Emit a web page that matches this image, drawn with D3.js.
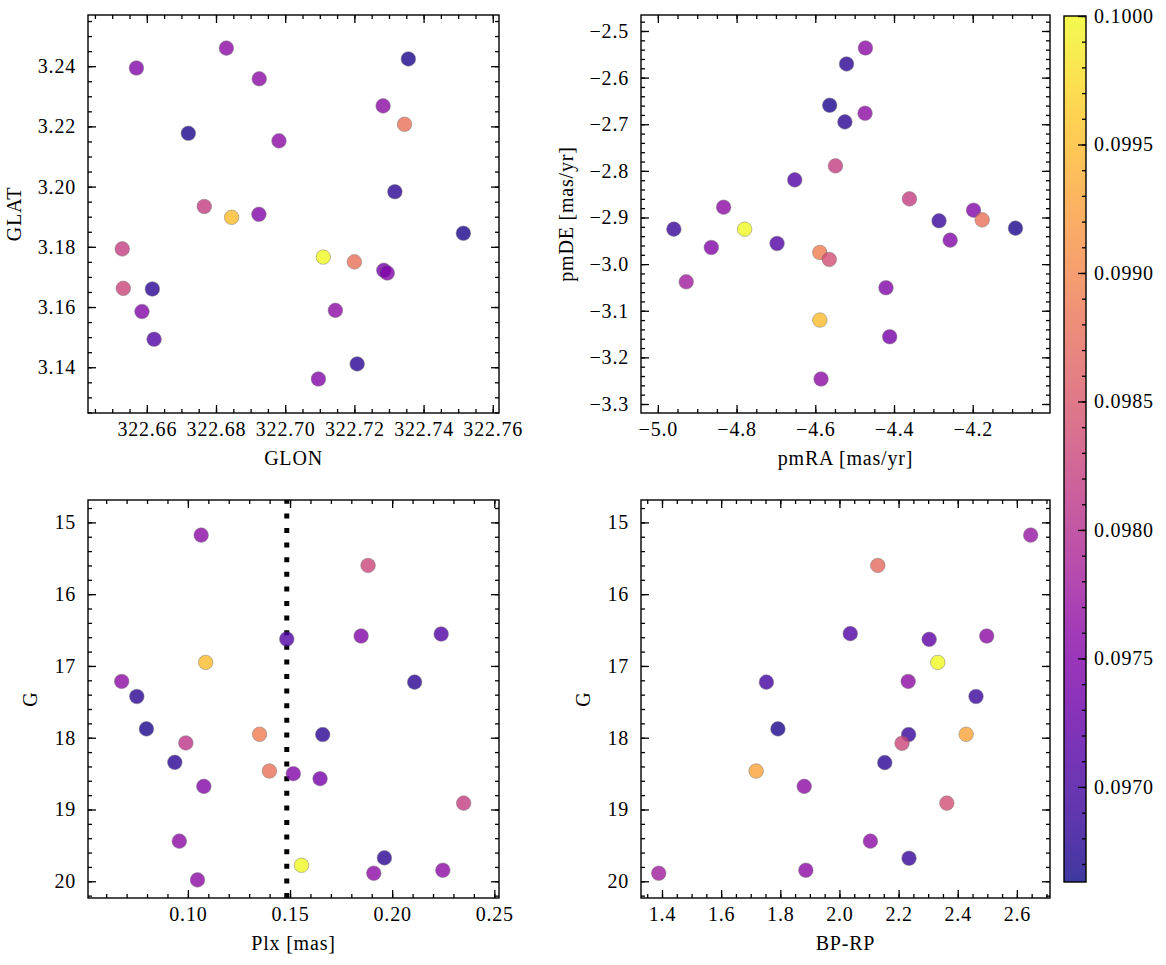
<!DOCTYPE html>
<html><head><meta charset="utf-8">
<script src="https://cdn.jsdelivr.net/npm/d3@7"></script>
<style>
body{margin:0;background:#fff}
text{font-family:"Liberation Serif","Times New Roman",serif;font-size:20px;fill:#000;letter-spacing:0.8px}
</style>
</head><body>
<svg id="c" width="1166" height="965" xmlns="http://www.w3.org/2000/svg"></svg>
<script>
// ---------- data ----------
// Panel 1: sky positions
const glon = [322.657,322.683,322.6925,322.7356,322.7283,322.7345,322.672,322.6982,322.7317,322.6766,322.6845,322.6924,322.7515,322.6529,322.711,322.720,322.7285,322.7295,322.6532,322.6616,322.6586,322.7145,322.6621,322.7208,322.7096];
const glat = [3.2394,3.246,3.2358,3.2424,3.2268,3.2207,3.2177,3.2152,3.1983,3.1934,3.1898,3.1908,3.1845,3.1793,3.1766,3.175,3.1722,3.1713,3.1662,3.166,3.1585,3.1589,3.1493,3.1411,3.1361];
const cPos = [0.0975,0.0976,0.0976,0.0967,0.0976,0.0988,0.0967,0.0976,0.0968,0.0982,0.0995,0.0975,0.0967,0.0982,0.1000,0.0988,0.0974,0.0975,0.0983,0.0968,0.0975,0.0976,0.0971,0.0968,0.0975];
// Panel 2: proper motions
const pmra = [-4.4726,-4.5206,-4.5634,-4.5248,-4.4736,-4.5488,-4.6522,-4.3608,-4.8329,-4.1979,-4.176,-4.2856,-4.0914,-4.9593,-4.7796,-4.2574,-4.8642,-4.6971,-4.5885,-4.5645,-4.9279,-4.4204,-4.5885,-4.411,-4.5854];
const pmde = [-2.5364,-2.5707,-2.6593,-2.695,-2.6764,-2.7893,-2.8193,-2.86,-2.8779,-2.8843,-2.905,-2.9071,-2.9229,-2.925,-2.925,-2.9486,-2.9643,-2.9557,-2.975,-2.99,-3.0379,-3.0507,-3.12,-3.1557,-3.2464];
const cPm = [0.0976,0.0968,0.0967,0.0968,0.0976,0.0982,0.0971,0.0982,0.0976,0.0975,0.0988,0.0969,0.0967,0.0969,0.1000,0.0975,0.0975,0.0971,0.0989,0.0984,0.0978,0.0975,0.0995,0.0974,0.0976];
// Panel 3: parallax vs G
const plx = [0.1065,0.1882,0.1484,0.1848,0.224,0.1087,0.0676,0.211,0.075,0.0797,0.1351,0.166,0.099,0.0936,0.1399,0.1516,0.1647,0.1078,0.235,0.0958,0.1962,0.1556,0.191,0.2248,0.1047];
const gPlx = [15.177,15.60,16.625,16.583,16.555,16.951,17.216,17.225,17.426,17.877,17.952,17.956,18.073,18.343,18.464,18.501,18.571,18.678,18.911,19.441,19.674,19.777,19.888,19.846,19.981];
const cPlx = [0.0976,0.0983,0.0971,0.0975,0.0971,0.0995,0.0976,0.0968,0.0968,0.0967,0.0989,0.0968,0.0981,0.0968,0.0988,0.0975,0.0974,0.0975,0.0982,0.0976,0.0968,0.1000,0.0976,0.0976,0.0976];
const plxCut = 0.1484;
// Panel 4: colour-magnitude
const bprp = [2.6467,2.1297,2.0366,2.3034,2.498,2.3326,1.753,2.2325,2.4618,1.792,2.2339,2.4285,2.2117,2.1533,1.7183,1.8809,2.3632,2.1047,2.2353,1.8864,1.3889];
const gCmd = [15.177,15.60,16.55,16.63,16.583,16.951,17.225,17.216,17.426,17.877,17.956,17.952,18.077,18.347,18.464,18.678,18.911,19.441,19.679,19.846,19.888];
const cCmd = [0.0977,0.0987,0.0971,0.0972,0.0976,0.1000,0.0970,0.0976,0.0969,0.0967,0.0969,0.0993,0.0983,0.0968,0.0993,0.0976,0.0984,0.0976,0.0969,0.0976,0.0978];
// colour scale range
const cRange = [0.09663, 0.1000];

// ---------- drawing ----------
const svg = d3.select("#c");
const cScale = d3.scaleSequential(d3.interpolatePlasma).domain(cRange);

function rangeStep(a, b, step) {
  const out = [];
  const n0 = Math.ceil(a / step - 1e-9), n1 = Math.floor(b / step + 1e-9);
  for (let i = n0; i <= n1; i++) out.push(+(i * step).toFixed(10));
  return out;
}

function panel(opt) {
  const {x0, x1, y0, y1} = opt;
  const x = d3.scaleLinear().domain(opt.xdom).range([x0, x1]);
  const y = d3.scaleLinear().domain(opt.ydom).range([y1, y0]);
  const g = svg.append("g");
  const xMaj = rangeStep(Math.min(...opt.xdom), Math.max(...opt.xdom), opt.xmaj);
  const xMin = rangeStep(Math.min(...opt.xdom), Math.max(...opt.xdom), opt.xmin);
  const yMaj = rangeStep(Math.min(...opt.ydom), Math.max(...opt.ydom), opt.ymaj);
  const yMin = rangeStep(Math.min(...opt.ydom), Math.max(...opt.ydom), opt.ymin);

  function addAxis(axisFn, scale, vals, size, tr, fmt, pad) {
    const a = axisFn(scale).tickValues(vals).tickSize(size).tickPadding(pad || 8)
      .tickFormat(fmt ? fmt : () => "");
    const ag = g.append("g").attr("transform", tr).call(a);
    ag.select(".domain").remove();
    ag.selectAll("line").attr("stroke", "#000").attr("stroke-width", 1.3);
    ag.selectAll("text").attr("font-family", null).attr("font-size", null).attr("fill", "#000");
    return ag;
  }
  const fmtX = v => d3.format(opt.xfmt)(v).replace("-", "\u2212");
  const fmtY = v => d3.format(opt.yfmt)(v).replace("-", "\u2212");
  addAxis(d3.axisBottom, x, xMin, -4, `translate(0,${y1})`);
  addAxis(d3.axisTop, x, xMin, -4, `translate(0,${y0})`);
  addAxis(d3.axisLeft, y, yMin, -4, `translate(${x0},0)`);
  addAxis(d3.axisRight, y, yMin, -4, `translate(${x1},0)`);
  addAxis(d3.axisBottom, x, xMaj, -8, `translate(0,${y1})`, fmtX, 9);
  addAxis(d3.axisTop, x, xMaj, -8, `translate(0,${y0})`);
  const yl = addAxis(d3.axisLeft, y, yMaj, -8, `translate(${x0},0)`, fmtY, 12);
  addAxis(d3.axisRight, y, yMaj, -8, `translate(${x1},0)`);

  if (opt.vline !== undefined) {
    g.append("line")
      .attr("x1", x(opt.vline)).attr("x2", x(opt.vline))
      .attr("y1", y1).attr("y2", y0)
      .attr("stroke", "#000").attr("stroke-width", 5)
      .attr("stroke-dasharray", "5,9.6");
  }

  g.append("g").selectAll("circle").data(opt.xs.map((v, i) => i)).join("circle")
    .attr("cx", i => x(opt.xs[i])).attr("cy", i => y(opt.ys[i])).attr("r", 7.3)
    .attr("fill", i => cScale(opt.cs[i]))
    .attr("stroke", "#5a5a5a").attr("stroke-width", 0.5)
    .attr("opacity", 0.8);

  g.append("rect").attr("x", x0).attr("y", y0).attr("width", x1 - x0).attr("height", y1 - y0)
    .attr("fill", "none").attr("stroke", "#000").attr("stroke-width", 1.4);

  // labels
  g.append("text").attr("x", (x0 + x1) / 2).attr("y", y1 + 52).attr("text-anchor", "middle").text(opt.xlabel);
  let maxW = 0;
  yl.selectAll("text").each(function () { maxW = Math.max(maxW, this.getBBox().width); });
  const lx = x0 - 12 - maxW - 17;
  g.append("text").attr("transform", `translate(${lx},${(y0 + y1) / 2}) rotate(-90)`)
    .attr("text-anchor", "middle").text(opt.ylabel);
}

panel({x0: 88, x1: 499, y0: 15, y1: 413, xdom: [322.643, 322.7618], ydom: [3.1248, 3.257],
  xmaj: 0.02, xmin: 0.005, ymaj: 0.02, ymin: 0.005, xfmt: ".2f", yfmt: ".2f",
  xs: glon, ys: glat, cs: cPos, xlabel: "GLON", ylabel: "GLAT"});
panel({x0: 641, x1: 1050, y0: 15, y1: 413, xdom: [-5.0428, -4.0037], ydom: [-3.3193, -2.4657],
  xmaj: 0.2, xmin: 0.05, ymaj: 0.1, ymin: 0.02, xfmt: ".1f", yfmt: ".1f",
  xs: pmra, ys: pmde, cs: cPm, xlabel: "pmRA [mas/yr]", ylabel: "pmDE [mas/yr]"});
panel({x0: 88, x1: 499, y0: 500, y1: 898, xdom: [0.0511, 0.2523], ydom: [20.233, 14.688],
  xmaj: 0.05, xmin: 0.01, ymaj: 1, ymin: 0.2, xfmt: ".2f", yfmt: "d",
  xs: plx, ys: gPlx, cs: cPlx, xlabel: "Plx [mas]", ylabel: "G", vline: plxCut});
panel({x0: 641, x1: 1050, y0: 500, y1: 898, xdom: [1.329, 2.712], ydom: [20.233, 14.688],
  xmaj: 0.2, xmin: 0.05, ymaj: 1, ymin: 0.2, xfmt: ".1f", yfmt: "d",
  xs: bprp, ys: gCmd, cs: cCmd, xlabel: "BP-RP", ylabel: "G"});

// ---------- colourbar ----------
const cb = {x0: 1064, x1: 1086, y0: 16, y1: 882};
const defs = svg.append("defs");
const grad = defs.append("linearGradient").attr("id", "cbg")
  .attr("x1", 0).attr("y1", 1).attr("x2", 0).attr("y2", 0);
d3.range(0, 1.0001, 0.02).forEach(t => {
  grad.append("stop").attr("offset", t).attr("stop-color", d3.interpolatePlasma(t)).attr("stop-opacity", 0.8);
});
svg.append("rect").attr("x", cb.x0).attr("y", cb.y0).attr("width", cb.x1 - cb.x0).attr("height", cb.y1 - cb.y0)
  .attr("fill", "url(#cbg)");
const cy = d3.scaleLinear().domain(cRange).range([cb.y1, cb.y0]);
const cbMaj = rangeStep(cRange[0], cRange[1], 0.0005);
const cbMin = rangeStep(cRange[0], cRange[1], 0.0001);
const cbg = svg.append("g");
[[cbMin, -4, null], [cbMaj, -8, d3.format(".4f")]].forEach(([vals, size, fmt]) => {
  const a = d3.axisRight(cy).tickValues(vals).tickSize(size).tickPadding(8).tickFormat(fmt ? fmt : () => "");
  const ag = cbg.append("g").attr("transform", `translate(${cb.x1},0)`).call(a);
  ag.select(".domain").remove();
  ag.selectAll("line").attr("stroke", "#000").attr("stroke-width", 1.3);
  ag.selectAll("text").attr("font-family", null).attr("font-size", null).attr("fill", "#000");
});
svg.append("rect").attr("x", cb.x0).attr("y", cb.y0).attr("width", cb.x1 - cb.x0).attr("height", cb.y1 - cb.y0)
  .attr("fill", "none").attr("stroke", "#000").attr("stroke-width", 1.4);
</script>
</body></html>
